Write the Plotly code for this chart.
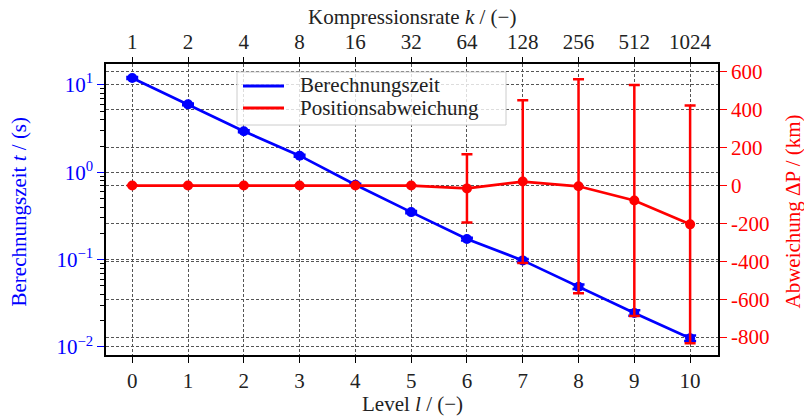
import plotly.graph_objects as go

levels = [0, 1, 2, 3, 4, 5, 6, 7, 8, 9, 10]
kompression = ["1", "2", "4", "8", "16", "32", "64", "128", "256", "512", "1024"]
zeit = [12.0, 6.0, 2.95, 1.55, 0.72, 0.35, 0.172, 0.098, 0.049, 0.0245, 0.0126]
zeit_err = [0.3, 0.15, 0.08, 0.04, 0.02, 0.01, 0.006, 0.004, 0.003, 0.0018, 0.0009]
abw = [0, 0, 0, 0, 0, 0, -15, 21, -4, -79, -205]
abw_err = [0, 0, 0, 0, 0, 0, 180, 430, 565, 610, 628]
series_names = ["Berechnungszeit", "Positionsabweichung"]

left_ticks = [0.01, 0.1, 1, 10]
left_text = ["10<sup>−2</sup>", "10<sup>−1</sup>", "10<sup>0</sup>", "10<sup>1</sup>"]
left_minor = [m * d for d in (0.01, 0.1, 1, 10) for m in range(2, 10)]
right_ticks = [-800, -600, -400, -200, 0, 200, 400, 600]
right_text = ["-800", "-600", "-400", "-200", "0", "200", "400", "600"]

FONT = "Liberation Serif, DejaVu Serif, serif"
BLUE = "#0000ff"
RED = "#ff0000"
GRID = "#555555"
TXT = "#222222"
FS = 21

fig = go.Figure()

fig.add_trace(go.Scatter(
    x=levels, y=abw, yaxis="y2", mode="lines+markers", name=series_names[1],
    line=dict(color=RED, width=2.7), marker=dict(color=RED, size=10),
    error_y=dict(type="data", array=abw_err, color=RED, thickness=2.5, width=5.5),
    showlegend=False))
fig.add_trace(go.Scatter(
    x=levels, y=zeit, yaxis="y", mode="lines+markers", name=series_names[0],
    line=dict(color=BLUE, width=2.7), marker=dict(color=BLUE, size=10),
    error_y=dict(type="data", array=zeit_err, color=BLUE, thickness=2.5, width=6),
    showlegend=False))
fig.add_trace(go.Scatter(x=levels, y=zeit, xaxis="x2", mode="markers",
                         marker=dict(opacity=0), showlegend=False, hoverinfo="skip"))

grid = dict(showgrid=True, gridcolor=GRID, griddash="3px,2px", gridwidth=0.9)
frame = dict(showline=True, linecolor="black", linewidth=1.5, automargin=False, zeroline=False)
xr = [-0.47, 10.5]

# legend box drawn in pixel offsets from the plot's top-left corner
def px_shape(**kw):
    base = dict(xref="paper", yref="paper", xsizemode="pixel", ysizemode="pixel",
                xanchor=0, yanchor=1, layer="above")
    base.update(kw)
    return base

shapes = [
    px_shape(type="rect", x0=131, x1=400, y0=-8, y1=-61,
             fillcolor="rgba(255,255,255,0.8)", line=dict(color="#cccccc", width=1)),
    px_shape(type="line", x0=137, x1=178, y0=-22, y1=-22, line=dict(color=BLUE, width=3)),
    px_shape(type="line", x0=137, x1=178, y0=-44, y1=-44, line=dict(color=RED, width=3)),
]

annotations = [
    dict(text=series_names[0], xref="paper", yref="paper", x=0, y=1, xshift=192, yshift=-21,
         showarrow=False, xanchor="left", yanchor="middle",
         font=dict(family=FONT, size=FS, color=TXT)),
    dict(text=series_names[1], xref="paper", yref="paper", x=0, y=1, xshift=192, yshift=-44,
         showarrow=False, xanchor="left", yanchor="middle",
         font=dict(family=FONT, size=FS, color=TXT)),
    dict(text="Kompressionsrate <i>k</i> / (−)", xref="paper", yref="paper",
         x=0.5, y=1, yshift=47, showarrow=False, xanchor="center", yanchor="middle",
         font=dict(family=FONT, size=FS, color=TXT)),
    dict(text="Level <i>l</i> / (−)", xref="paper", yref="paper",
         x=0.5, y=0, yshift=-49, showarrow=False, xanchor="center", yanchor="middle",
         font=dict(family=FONT, size=FS, color=TXT)),
    dict(text="Berechnungszeit <i>t</i> / (s)", xref="paper", yref="paper",
         x=0, y=0.5, xshift=-88, yshift=-2, showarrow=False, textangle=-90,
         xanchor="center", yanchor="middle",
         font=dict(family=FONT, size=FS, color=BLUE)),
    dict(text="Abweichung ΔP / (km)", xref="paper", yref="paper",
         x=1, y=0.5, xshift=74, yshift=-2, showarrow=False, textangle=-90,
         xanchor="center", yanchor="middle",
         font=dict(family=FONT, size=FS, color=RED)),
]

fig.update_layout(
    width=804, height=417,
    margin=dict(l=106, r=86, t=64, b=62),
    paper_bgcolor="white", plot_bgcolor="white",
    font=dict(family=FONT, size=FS, color=TXT),
    showlegend=False,
    xaxis=dict(range=xr, tickvals=levels, ticktext=[str(l) for l in levels],
               tickfont=dict(family=FONT, size=FS, color=TXT),
               ticks="outside", ticklen=6, tickcolor="black", **grid, **frame),
    xaxis2=dict(range=xr, overlaying="x", side="top",
                tickvals=levels, ticktext=kompression,
                tickfont=dict(family=FONT, size=FS, color=TXT),
                ticks="outside", ticklen=5, tickcolor="black", showgrid=False, **frame),
    yaxis=dict(type="log", range=[-2.092, 1.24],
               tickvals=left_ticks, ticktext=left_text,
               tickfont=dict(family=FONT, size=FS, color=BLUE),
               ticks="outside", ticklen=7, tickcolor=BLUE,
               minor=dict(tickmode="array", tickvals=left_minor, ticks="outside",
                          ticklen=4, tickcolor="black", showgrid=False),
               **grid, **frame),
    yaxis2=dict(overlaying="y", side="right", range=[-895, 642],
                tickvals=right_ticks, ticktext=right_text,
                tickfont=dict(family=FONT, size=FS, color=RED),
                ticks="outside", ticklen=7, tickcolor=RED,
                **grid, **frame),
    shapes=shapes,
    annotations=annotations,
)

fig.write_html("out.html",
               config={"displayModeBar": False},
               post_script="document.body.style.margin='0px';document.body.style.overflow='hidden';")
